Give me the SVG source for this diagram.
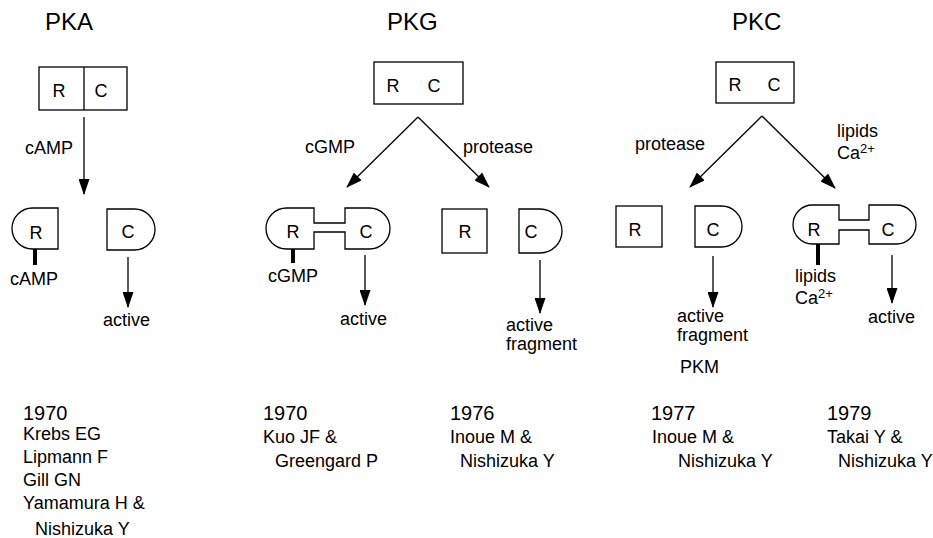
<svg xmlns="http://www.w3.org/2000/svg" width="933" height="538" viewBox="0 0 933 538">
<style>
text{font-family:"Liberation Sans",Arial,sans-serif;font-size:18px;fill:#000}
.t{font-size:24px}
.y{font-size:20px}
.m{text-anchor:middle}
.s{fill:#fff;stroke:#000;stroke-width:1.3}
.a{stroke:#000;stroke-width:1.3;fill:none;marker-end:url(#ah)}
.b{stroke:#000;stroke-width:4}
.sup{font-size:13px}
</style>
<defs>
<marker id="ah" markerUnits="userSpaceOnUse" markerWidth="16" markerHeight="11" viewBox="0 0 16 11" refX="15" refY="5.5" orient="auto">
<path d="M0,0 L16,5.5 L0,11 Z" fill="#000"/>
</marker>
</defs>
<text class="t" x="45" y="30">PKA</text>
<text class="t" x="387" y="30">PKG</text>
<text class="t" x="732" y="30">PKC</text>
<g id="pka-holo"><rect class="s" x="39" y="67" width="88" height="43"/><line x1="84" y1="67" x2="84" y2="110" stroke="#000" stroke-width="1.3"/><text class="m" x="59" y="97">R</text><text class="m" x="101" y="97">C</text></g>
<g id="pka-r"><path class="s" d="M58,208 H32.5 A20.5,20.5 0 0 0 32.5,249 H58 Z"/><text class="m" x="36" y="239">R</text></g>
<g id="pka-c"><path class="s" d="M107,209 H134.5 A20.5,20.5 0 0 1 134.5,250 H107 Z"/><text class="m" x="128" y="238">C</text></g>
<g id="pkg-holo"><rect class="s" x="374" y="62" width="89" height="42"/><text class="m" x="393" y="92">R</text><text class="m" x="434" y="92">C</text></g>
<g id="pkg-rc"><path class="s" d="M314,208 H286.5 A20.5,20.5 0 0 0 286.5,249 H314 V232 H345 V249 H369.5 A20.5,20.5 0 0 0 369.5,208 H345 V223 H314 Z"/><text class="m" x="293" y="238">R</text><text class="m" x="366" y="238">C</text></g>
<g id="pkg-r"><rect class="s" x="442" y="209" width="45" height="44"/><text class="m" x="465" y="238">R</text></g>
<g id="pkg-c"><path class="s" d="M519,209 H540 A22,22 0 0 1 540,253 H519 Z"/><text class="m" x="531" y="238">C</text></g>
<g id="pkc-holo"><rect class="s" x="716" y="62" width="78" height="41"/><text class="m" x="735" y="91">R</text><text class="m" x="774" y="91">C</text></g>
<g id="pkc-r"><rect class="s" x="616" y="206" width="46" height="41"/><text class="m" x="635" y="236">R</text></g>
<g id="pkc-c"><path class="s" d="M695,206 H721.5 A20.5,20.5 0 0 1 721.5,247 H695 Z"/><text class="m" x="713" y="236">C</text></g>
<g id="pkc-rc"><path class="s" d="M839,205 H812.5 A19.5,19.5 0 0 0 812.5,244 H839 V230 H869 V244 H896.5 A19.5,19.5 0 0 0 896.5,205 H869 V220 H839 Z"/><text class="m" x="814" y="236">R</text><text class="m" x="888" y="236">C</text></g>
<g id="connectors">
<line class="a" x1="84" y1="117" x2="84" y2="194"/>
<line class="a" x1="128" y1="257" x2="128" y2="307"/>
<line class="b" x1="35" y1="249" x2="35" y2="265"/>
<line class="a" x1="418" y1="117" x2="347" y2="187"/>
<line class="a" x1="418" y1="117" x2="489" y2="187"/>
<line class="b" x1="293" y1="249" x2="293" y2="263"/>
<line class="a" x1="365" y1="255" x2="365" y2="305"/>
<line class="a" x1="540" y1="260" x2="540" y2="313"/>
<line class="a" x1="762" y1="116" x2="690" y2="187"/>
<line class="a" x1="762" y1="116" x2="835" y2="188"/>
<line class="a" x1="713" y1="256" x2="713" y2="307"/>
<line class="b" x1="818" y1="244" x2="818" y2="265"/>
<line class="a" x1="892" y1="255" x2="892" y2="303"/>
</g>
<text x="25" y="154">cAMP</text>
<text x="10" y="285">cAMP</text>
<text x="103" y="326">active</text>
<text x="305" y="153">cGMP</text>
<text x="463" y="153">protease</text>
<text x="268" y="282">cGMP</text>
<text x="340" y="325">active</text>
<text x="506" y="331">active</text>
<text x="506" y="350">fragment</text>
<text x="635" y="150">protease</text>
<text x="837" y="137">lipids</text>
<text x="837" y="159">Ca<tspan class="sup" dy="-6">2+</tspan></text>
<text x="795" y="282">lipids</text>
<text x="795" y="304">Ca<tspan class="sup" dy="-6">2+</tspan></text>
<text x="677" y="322">active</text>
<text x="677" y="341">fragment</text>
<text x="680" y="373">PKM</text>
<text x="868" y="323">active</text>
<text class="y" x="23" y="420">1970</text>
<text x="23" y="440">Krebs EG</text>
<text x="23" y="463">Lipmann F</text>
<text x="23" y="486">Gill GN</text>
<text x="23" y="509">Yamamura H &amp;</text>
<text x="35" y="535">Nishizuka Y</text>
<text class="y" x="263" y="420">1970</text>
<text x="263" y="443">Kuo JF &amp;</text>
<text x="275" y="467">Greengard P</text>
<text class="y" x="450" y="420">1976</text>
<text x="450" y="443">Inoue M &amp;</text>
<text x="460" y="467">Nishizuka Y</text>
<text class="y" x="651" y="420">1977</text>
<text x="652" y="443">Inoue M &amp;</text>
<text x="678" y="467">Nishizuka Y</text>
<text class="y" x="827" y="420">1979</text>
<text x="827" y="443">Takai Y &amp;</text>
<text x="838" y="467">Nishizuka Y</text>
</svg>
